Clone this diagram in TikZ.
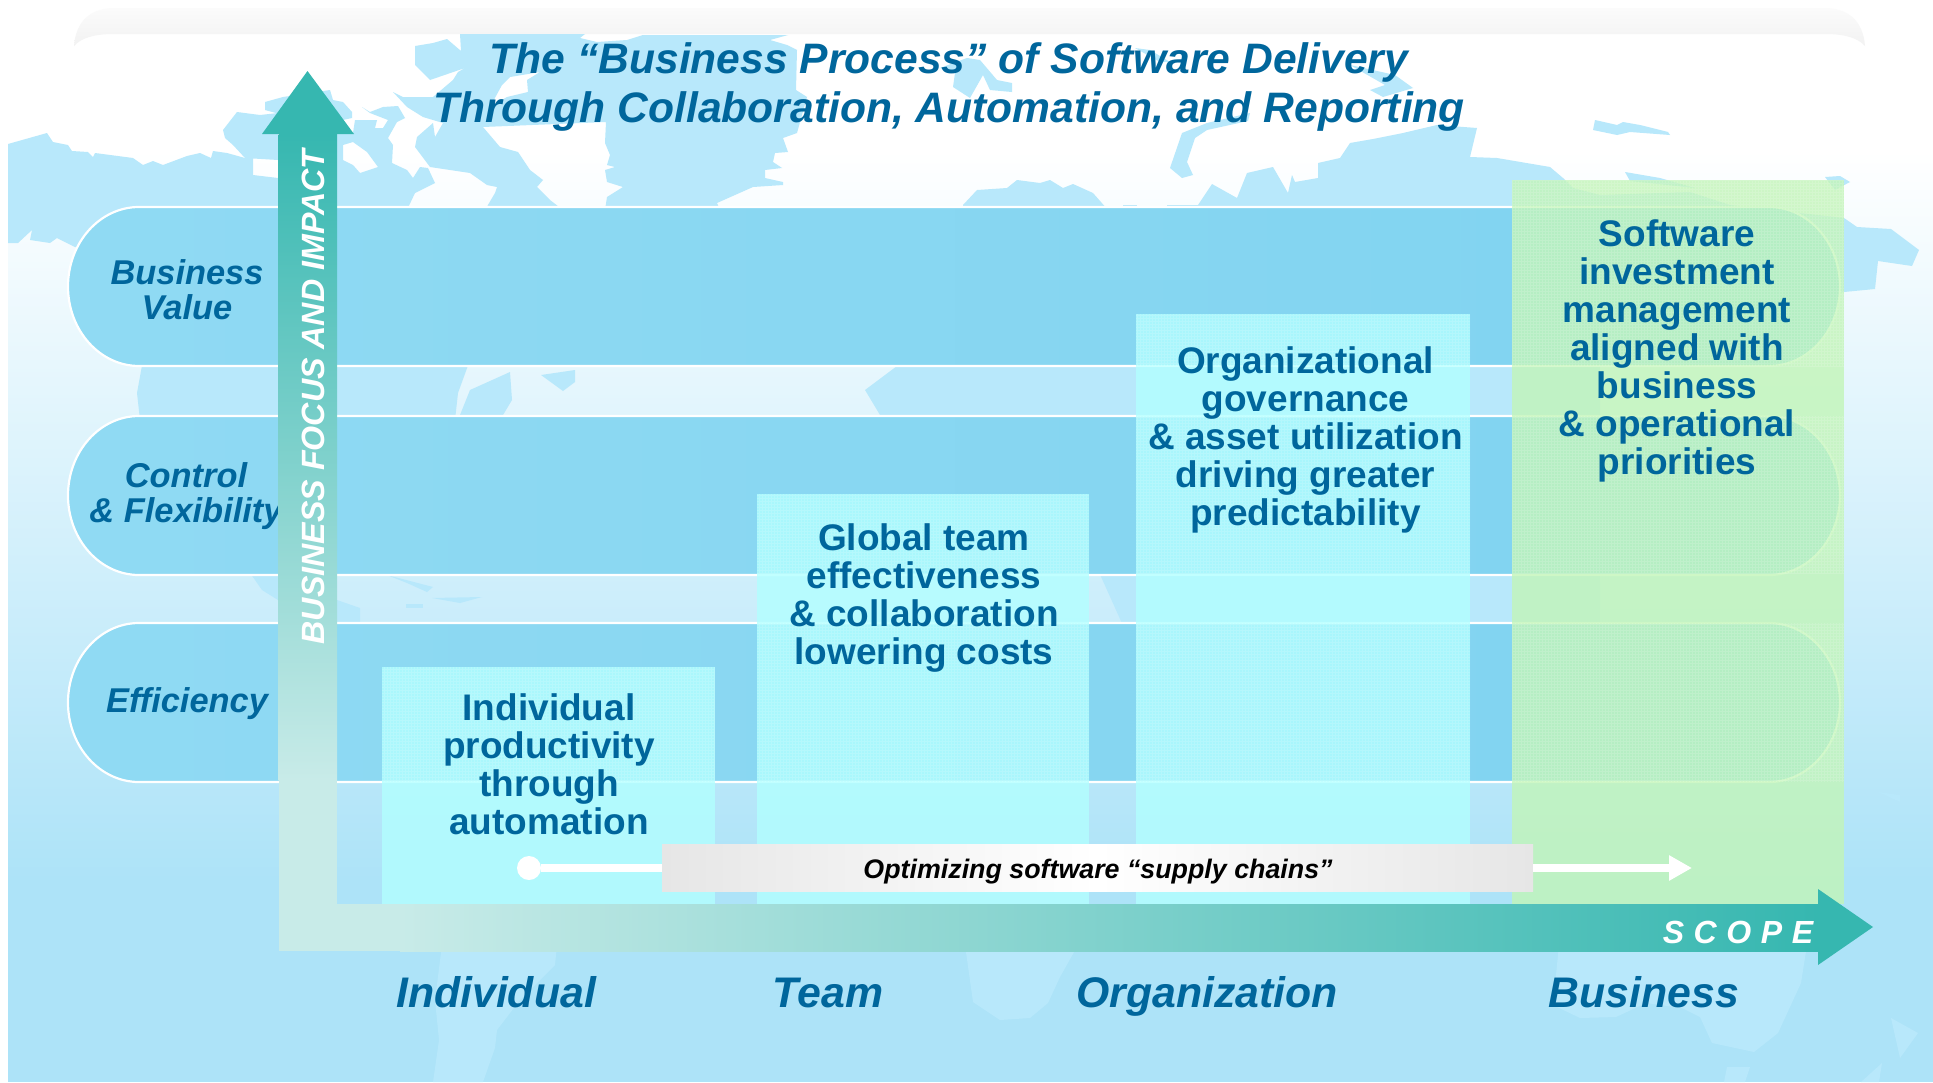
\documentclass[tikz,border=0pt]{standalone}
\usepackage{fontspec}
\setmainfont{Liberation Sans}
\usetikzlibrary{arrows.meta, positioning, calc}

\definecolor{titleblue}{HTML}{00669C}
\definecolor{landblue}{HTML}{B8E8FB}
\definecolor{seablue}{HTML}{ADE3F8}
\definecolor{bandleft}{HTML}{90DAF3}
\definecolor{bandright}{HTML}{7FD3F0}
\definecolor{stepcyan}{HTML}{B2FFFF}
\definecolor{stepgreen}{HTML}{C2F5B8}
\definecolor{axisteal}{HTML}{36B7B0}
\definecolor{axispale}{HTML}{C8EBE8}
\definecolor{framegray}{HTML}{F2F2F2}
\definecolor{bargray}{HTML}{E6E6E6}

\begin{document}
\begin{tikzpicture}[x=0.5pt, y=-0.5pt, line join=round]
	
	\tikzset{
		land/.style={fill=landblue, even odd rule},
		bandpill/.style={draw=white, line width=1.1pt, left color=bandleft, right color=bandright},
		stairbox/.style={fill=stepcyan, opacity=0.8},
		stairmesh/.style={draw=white, line width=0.3pt, opacity=0.15},
		bandlabel/.style={font=\fontsize{17.2}{17.5}\selectfont\bfseries\itshape, text=titleblue, align=center, inner sep=0pt},
		scopelabel/.style={font=\fontsize{21.4}{24}\selectfont\bfseries\itshape, text=titleblue, inner sep=0pt, anchor=base},
		stairtext/.style={font=\fontsize{18.5}{19}\selectfont\bfseries, text=titleblue, align=center, inner sep=0pt},
		axistext/.style={text=white, inner sep=0pt},
		flowline/.style={draw=white, line width=4pt}
	}
	
	\useasboundingbox (0,0) rectangle (1933,1082);
	
	% background and frame
	\fill[white] (0,0) rectangle (1933,1082);
	\shade[top color=white, bottom color=seablue] (8,150) rectangle (1933,880);
	\fill[seablue] (8,880) rectangle (1933,1082);
	\shade[top color=framegray!30, bottom color=framegray] (74,46) .. controls (76,20) and (92,8) .. (114,8) -- (1825,8) .. controls (1847,8) and (1863,20) .. (1865,46) .. controls (1858,38) and (1845,34) .. (1825,34) -- (114,34) .. controls (94,34) and (81,38) .. (74,46) -- cycle;
	
	% map
	\fill[land] (8,144) -- (47,133) -- (53,142) -- (68,145) -- (72,151) -- (88,152) -- (93,157) -- (95,153) -- (133,158) -- (143,165) -- (153,161) -- (163,165) -- (187,156) -- (200,153) -- (211,158) -- (213,151) -- (227,153) -- (245,158) -- (253,157) -- (253,175) -- (278,178) -- (278,260) -- (75,247) -- (57,238) -- (50,243) -- (30,240) -- (32,230) -- (18,243) -- (8,243) -- cycle;
	\fill[land] (223,130) -- (237,112) -- (260,115) -- (278,113) -- (278,160) -- (245,158) -- (233,145) -- (225,138) -- cycle;
	\fill[land] (265,102) -- (283,97) -- (330,90) -- (333,100) -- (343,102) -- (352,112) -- (352,118) -- (320,125) -- (265,110) -- cycle;
	\fill[land] (337,134) -- (353,133) -- (355,120) -- (377,120) -- (375,128) -- (383,128) -- (388,120) -- (370,113) -- (362,107) -- (370,112) -- (383,107) -- (398,106) -- (405,118) -- (397,122) -- (388,138) -- (393,145) -- (392,163) -- (407,170) -- (413,178) -- (420,167) -- (428,168) -- (435,183) -- (415,193) -- (407,210) -- (337,210) -- cycle
		(343,145) -- (353,142) -- (367,152) -- (378,167) -- (360,173) -- (353,165) -- (343,160) -- cycle;
	\fill[land] (415,46) -- (433,43) -- (447,39) -- (461,51) -- (460,34) -- (585,34) -- (580,38) -- (597,42) -- (627,40) -- (643,35) -- (788,35) -- (770,40) -- (787,45) -- (797,50) -- (796,90) -- (807,97) -- (797,133) -- (783,138) -- (788,152) -- (775,153) -- (773,162) -- (782,168) -- (765,170) -- (765,178) -- (783,182) -- (783,185) -- (753,187) -- (717,203) -- (720,210) -- (605,210) -- (607,197) -- (623,187) -- (607,182) -- (605,170) -- (615,167) -- (607,165) -- (610,155) -- (605,143) -- (606,122) -- (483,127) -- (500,147) -- (518,152) -- (530,170) -- (543,180) -- (537,187) -- (550,200) -- (563,210) -- (485,210) -- (495,193) -- (497,187) -- (487,185) -- (470,173) -- (430,167) -- (415,147) -- (417,137) -- (433,123) -- (435,137) -- (443,123) -- (423,117) -- (407,107) -- (393,92) -- (403,97) -- (433,97) -- (453,80) -- (458,72) -- (465,68) -- (430,80) -- (415,65) -- cycle
		(502,85) -- (510,77) -- (540,72) -- (527,80) -- (528,92) -- (507,97) -- (490,107) -- cycle;
	\fill[land] (940,68) -- (967,58) -- (980,60) -- (997,80) -- (1012,83) -- (1012,92) -- (990,90) -- (983,75) -- (970,98) -- (953,87) -- (955,73) -- cycle;
	\fill[land] (1135,48) -- (1150,50) -- (1170,62) -- (1160,62) -- cycle;
	\fill[land] (1350,65) -- (1395,75) -- (1413,88) -- (1383,97) -- (1370,90) -- (1385,85) -- cycle;
	\fill[land] (1250,113) -- (1248,121) -- (1207,130) -- (1195,138) -- (1187,162) -- (1193,175) -- (1182,178) -- (1170,168) -- (1182,133) -- (1207,123) -- cycle;
	\fill[land] (963,205) -- (977,190) -- (1007,188) -- (1017,180) -- (1040,183) -- (1050,180) -- (1063,188) -- (1073,184) -- (1093,193) -- (1108,210) -- (963,210) -- cycle;
	\fill[land] (1123,205) -- (1137,205) -- (1137,210) -- (1123,210) -- cycle;
	\fill[land] (1167,205) -- (1198,205) -- (1212,184) -- (1237,198) -- (1247,173) -- (1273,167) -- (1288,193) -- (1292,175) -- (1295,182) -- (1318,178) -- (1318,163) -- (1340,158) -- (1350,143) -- (1373,139) -- (1403,133) -- (1437,125) -- (1477,128) -- (1470,157) -- (1497,158) -- (1550,167) -- (1563,178) -- (1573,188) -- (1600,195) -- (1690,192) -- (1730,205) -- (1844,218) -- (1857,227) -- (1891,229) -- (1919,250) -- (1912,266) -- (1878,261) -- (1875,289) -- (1844,292) -- (1800,300) -- (1167,300) -- cycle;
	\fill[land] (1595,120) -- (1617,125) -- (1623,122) -- (1640,125) -- (1668,132) -- (1670,135) -- (1630,132) -- (1617,135) -- (1593,130) -- cycle;
	\fill[land] (1625,172) -- (1660,178) -- (1695,188) -- (1630,181) -- cycle;
	\fill[land] (1825,177) -- (1840,176) -- (1850,182) -- (1835,190) -- cycle;
	% strips between the bands
	\fill[land] (143,360) -- (470,360) -- (458,393) -- (455,420) -- (140,420) -- (137,393) -- cycle;
	\fill[land] (458,420) -- (470,390) -- (510,372) -- (512,400) -- (500,420) -- cycle;
	\fill[land] (541,375) -- (575,370) -- (575,382) -- (563,391) -- cycle;
	\fill[land] (905,360) -- (1600,360) -- (1600,420) -- (883,420) -- (865,390) -- cycle;
	\fill[land] (248,570) -- (278,570) -- (278,600) -- (262,590) -- cycle;
	\fill[land] (337,600) -- (360,608) -- (360,630) -- (337,630) -- cycle;
	\fill[land] (387,575) -- (433,587) -- (427,592) -- (407,583) -- cycle;
	\fill[land] (432,598) -- (482,597) -- (460,603) -- cycle;
	\fill[land] (406,604) -- (423,604) -- (423,608) -- (406,608) -- cycle;
	\fill[land] (1098,570) -- (1600,570) -- (1600,630) -- (1125,630) -- cycle;
	% southern land
	\fill[land] (442,945) -- (557,945) -- (555,965) -- (520,1000) -- (497,1030) -- (495,1048) -- (483,1082) -- (433,1082) -- (439,1040) -- (435,1000) -- cycle;
	\fill[land] (965,945) -- (1078,945) -- (1060,977) -- (1048,1003) -- (1030,1018) -- (1000,1020) -- (973,1002) -- cycle;
	\fill[land] (1559,945) -- (1807,945) -- (1801,983) -- (1778,1033) -- (1754,1052) -- (1712,1043) -- (1700,1017) -- (1682,1008) -- (1646,1003) -- (1616,1017) -- (1580,1018) -- (1553,1005) -- cycle;
	\fill[land] (1727,1067) -- (1750,1067) -- (1745,1082) -- (1724,1082) -- cycle;
	\fill[land] (1891,1018) -- (1918,1033) -- (1900,1058) -- cycle;
	\fill[land] (1882,1063) -- (1861,1082) -- (1879,1082) -- cycle;
	\fill[land] (1878,792) -- (1900,795) -- (1900,802) -- (1885,795) -- cycle;
	
	% the three bands
	\foreach \ya in {207,416,623}{
		\pgfmathsetmacro{\yb}{\ya+159}
		\draw[bandpill] (139,\ya) -- (1769,\ya) arc[start angle=-90, end angle=90, x radius=71, y radius=79.5] -- (139,\yb) arc[start angle=90, end angle=270, x radius=71, y radius=79.5] -- cycle;
	}
	
	% stairs
	\foreach \xa/\ya/\xb in {382/667/715, 757/494/1089, 1136/314/1470}{
		\fill[stairbox] (\xa,\ya) rectangle (\xb,904);
	}
	\fill[stairbox, fill=stepgreen] (1512,180) rectangle (1844,904);
	\foreach \xa/\ya/\xb/\yb in {382/667/715/782, 757/494/1089/573, 757/623/1089/782, 1136/314/1470/366, 1136/416/1470/573, 1136/623/1470/782, 1512/180/1844/366, 1512/416/1844/573, 1512/623/1844/782}{
		\begin{scope}
			\clip (\xa,\ya) rectangle (\xb,\yb);
			\draw[stairmesh, step=1.5pt] (\xa,\yb) grid (\xb,\ya);
		\end{scope}
	}
	
	\node[bandlabel] (valuelabel) at (187,289.5) {Business\\Value};
	\node[bandlabel] (controllabel) at (186,496) {Control\\\& Flexibility};
	\node[bandlabel] (efficiencylabel) at (187,704) {Efficiency};
	
	% L shaped axes
	\shade[top color=axisteal, bottom color=axispale] (278.5,134) rectangle (337,780);
	\fill[axispale] (278.5,780) rectangle (337,951);
	\fill[axispale] (337,904) rectangle (400,951);
	\shade[left color=axispale, right color=axisteal] (400,904) rectangle (1818,951);
	\fill[axisteal] (262,134) -- (307.5,71) -- (354,134) -- cycle;
	\fill[axisteal] (1818,889) -- (1873,927) -- (1818,965) -- cycle;
	
	\node[axistext, rotate=90, font=\fontsize{16.1}{17}\selectfont\bfseries\itshape] (focuslabel) at (313,397) {BUSINESS FOCUS AND IMPACT};
	\node[axistext, font=\fontsize{16}{18}\selectfont\bfseries\itshape\addfontfeature{LetterSpace=30}] (scopeword) at (1738,932) {SCOPE};
	
	% flow through the stairs
	\node[fill=white, circle, minimum size=12pt, inner sep=0pt] (flowdot) at (529,868) {};
	\coordinate (flowend) at (1692,868);
	\node[left color=bargray, right color=bargray, middle color=white, minimum width=435.5pt, minimum height=23.75pt, inner sep=0pt] (supplybar) at (1097.5,868) {};
	\node[font=\fontsize{13.4}{15}\selectfont\bfseries\itshape, inner sep=0pt] (supplytext) at (1098,872) {Optimizing software “supply chains”};
	\draw[flowline] (flowdot) -- (supplybar.west);
	\draw[flowline, -{Triangle[length=11.5pt, width=12pt]}] (supplybar.east) -- (flowend);
	
	\node[stairtext] (indivtext) at (549,764) {Individual\\productivity\\through\\automation};
	\node[stairtext] (teamtext) at (924,598) {Global team\\effectiveness\\\& collaboration\\lowering costs};
	\node[stairtext] (orgtext) at (1305.5,440) {Organizational\\governance\\\& asset utilization\\driving greater\\predictability};
	\node[stairtext] (bizztext) at (1677,351) {Software\\investment\\management\\aligned with\\business\\\& operational\\priorities};
	
	\node[scopelabel] (individuallabel) at (496,1007) {Individual};
	\node[scopelabel] (teamlabel) at (828,1007) {Team};
	\node[scopelabel] (organizationlabel) at (1207,1007) {Organization};
	\node[scopelabel] (businesslabel) at (1644,1007) {Business};
	
	\node[font=\fontsize{21.3}{24.5}\selectfont\bfseries\itshape, text=titleblue, align=center, inner sep=0pt] (titlelabel) at (949,87) {The “Business Process” of Software Delivery\\Through Collaboration, Automation, and Reporting};
	
\end{tikzpicture}
\end{document}
